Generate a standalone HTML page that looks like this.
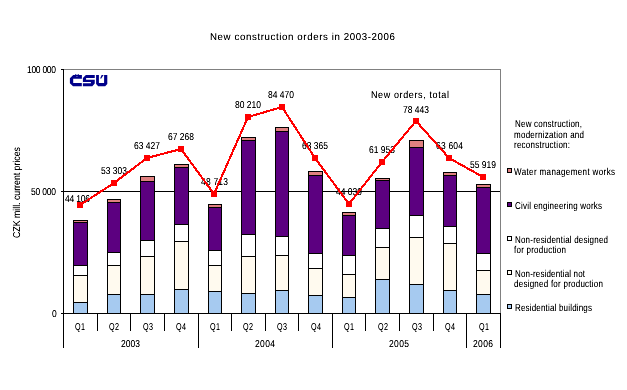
<!DOCTYPE html><html><head><meta charset="utf-8"><style>html,body{margin:0;padding:0;background:#fff;}svg{display:block}text{font-family:"Liberation Sans",sans-serif;fill:#000;text-rendering:geometricPrecision}</style></head><body>
<div style="position:absolute;left:0;top:0;width:627px;height:390px;will-change:transform"><svg width="627" height="390" viewBox="0 0 627 390">
<defs><filter id="crisp" x="-5%" y="-50%" width="110%" height="200%"><feComponentTransfer><feFuncA type="linear" slope="1.25" intercept="-0.03"/></feComponentTransfer></filter></defs>
<g shape-rendering="crispEdges">
<path d="M63 69.5H500.5M500.5 69V313" stroke="#808080" stroke-width="1" fill="none"/>
<path d="M61 191.5H500" stroke="#000" stroke-width="1" fill="none"/>
<rect x="73.5" y="220.5" width="14" height="2" fill="#E08080" stroke="#000" stroke-width="1"/>
<rect x="73.5" y="222.5" width="14" height="43" fill="#5C0080" stroke="#000" stroke-width="1"/>
<rect x="73.5" y="265.5" width="14" height="10" fill="#FFFFFF" stroke="#000" stroke-width="1"/>
<rect x="73.5" y="275.5" width="14" height="27" fill="#FFFAEF" stroke="#000" stroke-width="1"/>
<rect x="73.5" y="302.5" width="14" height="11" fill="#A6CAF0" stroke="#000" stroke-width="1"/>
<rect x="107.5" y="199.5" width="13" height="3" fill="#E08080" stroke="#000" stroke-width="1"/>
<rect x="107.5" y="202.5" width="13" height="50" fill="#5C0080" stroke="#000" stroke-width="1"/>
<rect x="107.5" y="252.5" width="13" height="13" fill="#FFFFFF" stroke="#000" stroke-width="1"/>
<rect x="107.5" y="265.5" width="13" height="29" fill="#FFFAEF" stroke="#000" stroke-width="1"/>
<rect x="107.5" y="294.5" width="13" height="19" fill="#A6CAF0" stroke="#000" stroke-width="1"/>
<rect x="140.5" y="176.5" width="14" height="5" fill="#E08080" stroke="#000" stroke-width="1"/>
<rect x="140.5" y="181.5" width="14" height="59" fill="#5C0080" stroke="#000" stroke-width="1"/>
<rect x="140.5" y="240.5" width="14" height="16" fill="#FFFFFF" stroke="#000" stroke-width="1"/>
<rect x="140.5" y="256.5" width="14" height="38" fill="#FFFAEF" stroke="#000" stroke-width="1"/>
<rect x="140.5" y="294.5" width="14" height="19" fill="#A6CAF0" stroke="#000" stroke-width="1"/>
<rect x="174.5" y="164.5" width="14" height="3" fill="#E08080" stroke="#000" stroke-width="1"/>
<rect x="174.5" y="167.5" width="14" height="57" fill="#5C0080" stroke="#000" stroke-width="1"/>
<rect x="174.5" y="224.5" width="14" height="17" fill="#FFFFFF" stroke="#000" stroke-width="1"/>
<rect x="174.5" y="241.5" width="14" height="48" fill="#FFFAEF" stroke="#000" stroke-width="1"/>
<rect x="174.5" y="289.5" width="14" height="24" fill="#A6CAF0" stroke="#000" stroke-width="1"/>
<rect x="208.5" y="204.5" width="13" height="3" fill="#E08080" stroke="#000" stroke-width="1"/>
<rect x="208.5" y="207.5" width="13" height="43" fill="#5C0080" stroke="#000" stroke-width="1"/>
<rect x="208.5" y="250.5" width="13" height="15" fill="#FFFFFF" stroke="#000" stroke-width="1"/>
<rect x="208.5" y="265.5" width="13" height="26" fill="#FFFAEF" stroke="#000" stroke-width="1"/>
<rect x="208.5" y="291.5" width="13" height="22" fill="#A6CAF0" stroke="#000" stroke-width="1"/>
<rect x="241.5" y="137.5" width="14" height="3" fill="#E08080" stroke="#000" stroke-width="1"/>
<rect x="241.5" y="140.5" width="14" height="94" fill="#5C0080" stroke="#000" stroke-width="1"/>
<rect x="241.5" y="234.5" width="14" height="22" fill="#FFFFFF" stroke="#000" stroke-width="1"/>
<rect x="241.5" y="256.5" width="14" height="37" fill="#FFFAEF" stroke="#000" stroke-width="1"/>
<rect x="241.5" y="293.5" width="14" height="20" fill="#A6CAF0" stroke="#000" stroke-width="1"/>
<rect x="275.5" y="127.5" width="13" height="4" fill="#E08080" stroke="#000" stroke-width="1"/>
<rect x="275.5" y="131.5" width="13" height="105" fill="#5C0080" stroke="#000" stroke-width="1"/>
<rect x="275.5" y="236.5" width="13" height="19" fill="#FFFFFF" stroke="#000" stroke-width="1"/>
<rect x="275.5" y="255.5" width="13" height="35" fill="#FFFAEF" stroke="#000" stroke-width="1"/>
<rect x="275.5" y="290.5" width="13" height="23" fill="#A6CAF0" stroke="#000" stroke-width="1"/>
<rect x="308.5" y="171.5" width="14" height="4" fill="#E08080" stroke="#000" stroke-width="1"/>
<rect x="308.5" y="175.5" width="14" height="78" fill="#5C0080" stroke="#000" stroke-width="1"/>
<rect x="308.5" y="253.5" width="14" height="15" fill="#FFFFFF" stroke="#000" stroke-width="1"/>
<rect x="308.5" y="268.5" width="14" height="27" fill="#FFFAEF" stroke="#000" stroke-width="1"/>
<rect x="308.5" y="295.5" width="14" height="18" fill="#A6CAF0" stroke="#000" stroke-width="1"/>
<rect x="342.5" y="212.5" width="13" height="3" fill="#E08080" stroke="#000" stroke-width="1"/>
<rect x="342.5" y="215.5" width="13" height="40" fill="#5C0080" stroke="#000" stroke-width="1"/>
<rect x="342.5" y="255.5" width="13" height="19" fill="#FFFFFF" stroke="#000" stroke-width="1"/>
<rect x="342.5" y="274.5" width="13" height="23" fill="#FFFAEF" stroke="#000" stroke-width="1"/>
<rect x="342.5" y="297.5" width="13" height="16" fill="#A6CAF0" stroke="#000" stroke-width="1"/>
<rect x="375.5" y="178.5" width="14" height="2" fill="#E08080" stroke="#000" stroke-width="1"/>
<rect x="375.5" y="180.5" width="14" height="48" fill="#5C0080" stroke="#000" stroke-width="1"/>
<rect x="375.5" y="228.5" width="14" height="19" fill="#FFFFFF" stroke="#000" stroke-width="1"/>
<rect x="375.5" y="247.5" width="14" height="32" fill="#FFFAEF" stroke="#000" stroke-width="1"/>
<rect x="375.5" y="279.5" width="14" height="34" fill="#A6CAF0" stroke="#000" stroke-width="1"/>
<rect x="409.5" y="140.5" width="14" height="7" fill="#E08080" stroke="#000" stroke-width="1"/>
<rect x="409.5" y="147.5" width="14" height="68" fill="#5C0080" stroke="#000" stroke-width="1"/>
<rect x="409.5" y="215.5" width="14" height="22" fill="#FFFFFF" stroke="#000" stroke-width="1"/>
<rect x="409.5" y="237.5" width="14" height="47" fill="#FFFAEF" stroke="#000" stroke-width="1"/>
<rect x="409.5" y="284.5" width="14" height="29" fill="#A6CAF0" stroke="#000" stroke-width="1"/>
<rect x="443.5" y="172.5" width="13" height="3" fill="#E08080" stroke="#000" stroke-width="1"/>
<rect x="443.5" y="175.5" width="13" height="51" fill="#5C0080" stroke="#000" stroke-width="1"/>
<rect x="443.5" y="226.5" width="13" height="17" fill="#FFFFFF" stroke="#000" stroke-width="1"/>
<rect x="443.5" y="243.5" width="13" height="47" fill="#FFFAEF" stroke="#000" stroke-width="1"/>
<rect x="443.5" y="290.5" width="13" height="23" fill="#A6CAF0" stroke="#000" stroke-width="1"/>
<rect x="476.5" y="184.5" width="14" height="3" fill="#E08080" stroke="#000" stroke-width="1"/>
<rect x="476.5" y="187.5" width="14" height="66" fill="#5C0080" stroke="#000" stroke-width="1"/>
<rect x="476.5" y="253.5" width="14" height="17" fill="#FFFFFF" stroke="#000" stroke-width="1"/>
<rect x="476.5" y="270.5" width="14" height="24" fill="#FFFAEF" stroke="#000" stroke-width="1"/>
<rect x="476.5" y="294.5" width="14" height="19" fill="#A6CAF0" stroke="#000" stroke-width="1"/>
<path d="M61 69.5H63M61 191.5H64M61 313.5H500M63.5 69V348M500.5 313V348" stroke="#000" stroke-width="1" fill="none"/>
<path d="M97.5 314V331M130.5 314V331M164.5 314V331M198.5 314V348M231.5 314V331M265.5 314V331M298.5 314V331M332.5 314V348M365.5 314V331M399.5 314V331M433.5 314V331M466.5 314V348" stroke="#000" stroke-width="1" fill="none"/>
<rect x="507.5" y="168.5" width="4" height="4" fill="#E08080" stroke="#000" stroke-width="1"/>
<rect x="507.5" y="202.5" width="4" height="4" fill="#5C0080" stroke="#000" stroke-width="1"/>
<rect x="507.5" y="236.5" width="4" height="4" fill="#FFFFFF" stroke="#000" stroke-width="1"/>
<rect x="507.5" y="270.5" width="4" height="4" fill="#FFFAEF" stroke="#000" stroke-width="1"/>
<rect x="507.5" y="304.5" width="4" height="4" fill="#A6CAF0" stroke="#000" stroke-width="1"/>
</g>
<g fill="#00008a"><path d="M73.2 75H81.9V78.8H73.2V83H81.8V86.3H73L69.9 83.3V78.2Z"/><path d="M74.8 73.9H75.9L77 75.2L78.1 73.9H79.2L77.7 76.2H76.3Z" opacity="0.8"/><path d="M85.9 75H94.75V77.9H86.1V79.8H94.75V83.5L92.3 86.2H82.9V83.2H90.9V82H82.9V78Z"/><path d="M96.1 75H98.9V82.9H104.1V75H107.3V84L105.2 86.2H98.2L96.1 84Z"/></g><path d="M101.6 75H103.6L101.3 78.5H100.1Z" fill="#00008a"/><rect x="76.4" y="76" width="1.1" height="1" fill="#fff" opacity="0.5"/>
<g filter="url(#crisp)">
<text transform="translate(210,40) scale(0.97,1)" font-size="10" textLength="190.72" lengthAdjust="spacing">New construction orders in 2003-2006</text>
<text transform="translate(27,73) scale(0.85,1)" font-size="10" textLength="34.12" lengthAdjust="spacing">100 000</text>
<text transform="translate(31,195) scale(0.85,1)" font-size="10" textLength="29.41" lengthAdjust="spacing">50 000</text>
<text transform="translate(52,317) scale(0.85,1)" font-size="10" textLength="5.88" lengthAdjust="spacing">0</text>
<text transform="translate(19.5,238) rotate(-90) scale(0.88,1)" font-size="10" textLength="103.4" lengthAdjust="spacing">CZK mill. current prices</text>
<text transform="translate(65,202) scale(0.85,1)" font-size="10" textLength="29.41" lengthAdjust="spacing">44 106</text>
<text transform="translate(101,174) scale(0.85,1)" font-size="10" textLength="30.59" lengthAdjust="spacing">53 303</text>
<text transform="translate(134,149) scale(0.85,1)" font-size="10" textLength="30.59" lengthAdjust="spacing">63 427</text>
<text transform="translate(168,140) scale(0.85,1)" font-size="10" textLength="30.59" lengthAdjust="spacing">67 268</text>
<text transform="translate(201,185) scale(0.85,1)" font-size="10" textLength="31.76" lengthAdjust="spacing">48 713</text>
<text transform="translate(235,108) scale(0.85,1)" font-size="10" textLength="30.59" lengthAdjust="spacing">80 210</text>
<text transform="translate(268,98) scale(0.85,1)" font-size="10" textLength="30.59" lengthAdjust="spacing">84 470</text>
<text transform="translate(302,149) scale(0.85,1)" font-size="10" textLength="30.59" lengthAdjust="spacing">63 365</text>
<text transform="translate(336,195) scale(0.85,1)" font-size="10" textLength="30.59" lengthAdjust="spacing">44 039</text>
<text transform="translate(369,153) scale(0.85,1)" font-size="10" textLength="30.59" lengthAdjust="spacing">61 953</text>
<text transform="translate(403,113) scale(0.85,1)" font-size="10" textLength="30.59" lengthAdjust="spacing">78 443</text>
<text transform="translate(436,149) scale(0.85,1)" font-size="10" textLength="31.76" lengthAdjust="spacing">63 604</text>
<text transform="translate(470,168) scale(0.85,1)" font-size="10" textLength="30.59" lengthAdjust="spacing">55 919</text>
<text transform="translate(371,98) scale(0.9,1)" font-size="10" textLength="86.67" lengthAdjust="spacing">New orders, total</text>
<text transform="translate(75,330) scale(0.72,1)" font-size="10" textLength="13.89" lengthAdjust="spacing">Q1</text>
<text transform="translate(109,330) scale(0.72,1)" font-size="10" textLength="13.89" lengthAdjust="spacing">Q2</text>
<text transform="translate(143,330) scale(0.72,1)" font-size="10" textLength="13.89" lengthAdjust="spacing">Q3</text>
<text transform="translate(176,330) scale(0.72,1)" font-size="10" textLength="13.89" lengthAdjust="spacing">Q4</text>
<text transform="translate(210,330) scale(0.72,1)" font-size="10" textLength="13.89" lengthAdjust="spacing">Q1</text>
<text transform="translate(243,330) scale(0.72,1)" font-size="10" textLength="13.89" lengthAdjust="spacing">Q2</text>
<text transform="translate(277,330) scale(0.72,1)" font-size="10" textLength="13.89" lengthAdjust="spacing">Q3</text>
<text transform="translate(311,330) scale(0.72,1)" font-size="10" textLength="13.89" lengthAdjust="spacing">Q4</text>
<text transform="translate(344,330) scale(0.72,1)" font-size="10" textLength="13.89" lengthAdjust="spacing">Q1</text>
<text transform="translate(378,330) scale(0.72,1)" font-size="10" textLength="13.89" lengthAdjust="spacing">Q2</text>
<text transform="translate(412,330) scale(0.72,1)" font-size="10" textLength="13.89" lengthAdjust="spacing">Q3</text>
<text transform="translate(445,330) scale(0.72,1)" font-size="10" textLength="13.89" lengthAdjust="spacing">Q4</text>
<text transform="translate(479,330) scale(0.72,1)" font-size="10" textLength="13.89" lengthAdjust="spacing">Q1</text>
<text transform="translate(121,347) scale(0.85,1)" font-size="10" textLength="22.35" lengthAdjust="spacing">2003</text>
<text transform="translate(255,347) scale(0.85,1)" font-size="10" textLength="23.53" lengthAdjust="spacing">2004</text>
<text transform="translate(389,347) scale(0.85,1)" font-size="10" textLength="23.53" lengthAdjust="spacing">2005</text>
<text transform="translate(473,347) scale(0.85,1)" font-size="10" textLength="23.53" lengthAdjust="spacing">2006</text>
<text transform="translate(515,127) scale(0.8,1)" font-size="10" textLength="83.75" lengthAdjust="spacing">New construction,</text>
<text transform="translate(514,138) scale(0.8,1)" font-size="10" textLength="87.50" lengthAdjust="spacing">modernization and</text>
<text transform="translate(514,148) scale(0.8,1)" font-size="10" textLength="70.00" lengthAdjust="spacing">reconstruction:</text>
<text transform="translate(514,175) scale(0.8,1)" font-size="10" textLength="126.25" lengthAdjust="spacing">Water management works</text>
<text transform="translate(515,209) scale(0.8,1)" font-size="10" textLength="108.75" lengthAdjust="spacing">Civil engineering works</text>
<text transform="translate(515,243) scale(0.8,1)" font-size="10" textLength="116.25" lengthAdjust="spacing">Non-residential designed</text>
<text transform="translate(514,253) scale(0.8,1)" font-size="10" textLength="65.00" lengthAdjust="spacing">for production</text>
<text transform="translate(515,277) scale(0.8,1)" font-size="10" textLength="87.50" lengthAdjust="spacing">Non-residential not</text>
<text transform="translate(514,287) scale(0.8,1)" font-size="10" textLength="111.25" lengthAdjust="spacing">designed for production</text>
<text transform="translate(515,311) scale(0.8,1)" font-size="10" textLength="96.25" lengthAdjust="spacing">Residential buildings</text>
</g>
<polyline points="80,205 114,183 147,158 181,149 214,194 248,117 282,107 315,158 349,204 382,162 416,121 449,158 483,177" fill="none" stroke="#FF0000" stroke-width="2.1" shape-rendering="crispEdges"/>
<rect x="77" y="202" width="6" height="6" fill="#FF0000" shape-rendering="crispEdges"/>
<rect x="111" y="180" width="6" height="6" fill="#FF0000" shape-rendering="crispEdges"/>
<rect x="144" y="155" width="6" height="6" fill="#FF0000" shape-rendering="crispEdges"/>
<rect x="178" y="146" width="6" height="6" fill="#FF0000" shape-rendering="crispEdges"/>
<rect x="211" y="191" width="6" height="6" fill="#FF0000" shape-rendering="crispEdges"/>
<rect x="245" y="114" width="6" height="6" fill="#FF0000" shape-rendering="crispEdges"/>
<rect x="279" y="104" width="6" height="6" fill="#FF0000" shape-rendering="crispEdges"/>
<rect x="312" y="155" width="6" height="6" fill="#FF0000" shape-rendering="crispEdges"/>
<rect x="346" y="201" width="6" height="6" fill="#FF0000" shape-rendering="crispEdges"/>
<rect x="379" y="159" width="6" height="6" fill="#FF0000" shape-rendering="crispEdges"/>
<rect x="413" y="118" width="6" height="6" fill="#FF0000" shape-rendering="crispEdges"/>
<rect x="446" y="155" width="6" height="6" fill="#FF0000" shape-rendering="crispEdges"/>
<rect x="480" y="174" width="6" height="6" fill="#FF0000" shape-rendering="crispEdges"/>
</svg></div></body></html>
